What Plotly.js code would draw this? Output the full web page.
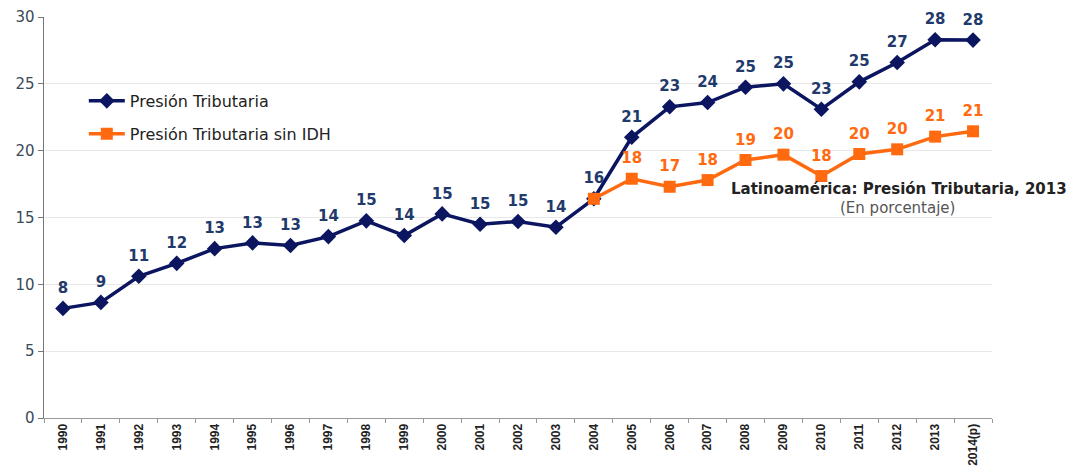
<!DOCTYPE html>
<html>
<head>
<meta charset="utf-8">
<script src="https://cdn.plot.ly/plotly-3.0.1.min.js"></script>
<style>html,body{margin:0;padding:0;background:#fff;}#chart{width:1070px;height:469px;}</style>
</head>
<body>
<div id="chart"></div>
<script>
const years = ["1990","1991","1992","1993","1994","1995","1996","1997","1998","1999","2000","2001","2002","2003","2004","2005","2006","2007","2008","2009","2010","2011","2012","2013","2014(p)"];
const presion = [8.2,8.65,10.6,11.57,12.67,13.1,12.9,13.57,14.75,13.65,15.27,14.5,14.7,14.27,16.4,21.0,23.28,23.6,24.75,25.0,23.1,25.15,26.6,28.3,28.27];
const presionSinIDH = [null,null,null,null,null,null,null,null,null,null,null,null,null,null,16.4,17.9,17.3,17.8,19.3,19.7,18.1,19.75,20.1,21.05,21.45];
const presionLabels = presion.map(v => String(Math.round(v)));
const sinIDHLabels = presionSinIDH.map((v, i) => (v === null || i === 14) ? "" : String(Math.round(v)));

const BLUE = "#0b1560";
const ORANGE = "#ff6a10";
const FONT = "DejaVu Sans, Liberation Sans, Arial";

const traces = [
  {
    x: years, y: presion, name: "Presión Tributaria", type: "scatter", mode: "lines+markers",
    legendgroup: "a",
    line: {color: BLUE, width: 3.5},
    marker: {symbol: "diamond", size: 12, color: BLUE}
  },
  {
    x: years, y: presionSinIDH, name: "Presión Tributaria sin IDH", type: "scatter", mode: "lines+markers",
    legendgroup: "b",
    line: {color: ORANGE, width: 3.5},
    marker: {symbol: "square", size: 12, color: ORANGE}
  },
  {
    x: years, y: presion, type: "scatter", mode: "markers+text", showlegend: false, hoverinfo: "skip",
    marker: {size: 17, opacity: 0},
    text: presionLabels, textposition: "top center",
    textfont: {family: FONT, size: 15, color: "#1f3a6b", weight: "bold"},
    cliponaxis: false
  },
  {
    x: years, y: presionSinIDH, type: "scatter", mode: "markers+text", showlegend: false, hoverinfo: "skip",
    marker: {size: 17, opacity: 0},
    text: sinIDHLabels, textposition: "top center",
    textfont: {family: FONT, size: 15, color: ORANGE, weight: "bold"},
    cliponaxis: false
  }
];

const layout = {
  width: 1070, height: 469,
  margin: {l: 44, r: 78, t: 17, b: 51},
  paper_bgcolor: "#fff", plot_bgcolor: "#fff",
  font: {family: FONT, color: "#333"},
  showlegend: true,
  legend: {x: 0.042, y: 0.833, xanchor: "left", yanchor: "top", bgcolor: "rgba(0,0,0,0)",
           font: {family: FONT, size: 16, color: "#222"}, tracegroupgap: 9, itemwidth: 36},
  xaxis: {
    type: "category", tickangle: -90, showgrid: false,
    showline: true, linecolor: "#999", linewidth: 1,
    ticks: "outside", tickson: "boundaries", ticklen: 4, tickcolor: "#999",
    tickfont: {family: "Liberation Sans, Arial", size: 12, color: "#222", weight: "bold"},
    range: [-0.5, 24.5], fixedrange: true
  },
  yaxis: {
    range: [0, 30], dtick: 5, tick0: 0,
    showgrid: true, gridcolor: "#e8e8e8", gridwidth: 1,
    showline: true, linecolor: "#777", linewidth: 1.5,
    ticks: "outside", ticklen: 5, tickcolor: "#777",
    tickfont: {family: FONT, size: 15, color: "#3a4a5a"},
    zeroline: false
  },
  annotations: [
    {xref: "paper", yref: "paper", x: 0.902, y: 0.572, text: "<b>Latinoamérica: Presión Tributaria, 2013</b>",
     showarrow: false, font: {family: FONT, size: 15, color: "#222"}, xanchor: "center", yanchor: "middle"},
    {xref: "paper", yref: "paper", x: 0.9, y: 0.524, text: "(En porcentaje)",
     showarrow: false, font: {family: FONT, size: 15, color: "#555"}, xanchor: "center", yanchor: "middle"}
  ]
};

Plotly.newPlot("chart", traces, layout, {displayModeBar: false, staticPlot: true});
</script>
</body>
</html>
